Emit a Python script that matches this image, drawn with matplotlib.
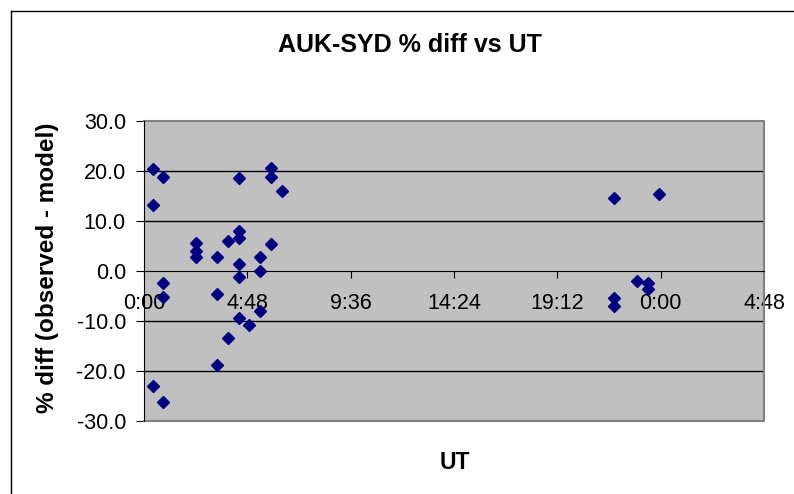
import matplotlib
matplotlib.use("Agg")
import matplotlib.pyplot as plt
from matplotlib.ticker import FuncFormatter, MultipleLocator
from matplotlib.lines import Line2D

plt.rcParams['font.family'] = ['Liberation Sans', 'DejaVu Sans']

# UT in hours, % diff (observed - model)
ut_hours = [0.4, 0.4, 0.4,
            0.9, 0.9, 0.9, 0.9,
            2.4, 2.4, 2.4,
            3.4, 3.4, 3.4,
            3.9, 3.9,
            4.4, 4.4, 4.4, 4.4, 4.4, 4.4,
            4.9,
            5.4, 5.4, 5.4,
            5.9, 5.9, 5.9,
            6.4,
            21.85, 21.85, 21.85,
            22.9,
            23.4, 23.4,
            23.9]
pct_diff = [20.4, 13.2, -22.9,
            18.9, -2.4, -5.2, -26.1,
            5.6, 4.1, 2.8,
            2.9, -4.5, -18.7,
            6.1, -13.3,
            18.6, 8.1, 6.7, 1.5, -1.1, -9.3,
            -10.7,
            2.9, 0.0, -7.9,
            20.6, 18.9, 5.4,
            16.1,
            14.7, -5.3, -6.9,
            -2.0,
            -2.3, -3.5,
            15.4]

ut_days = [h / 24.0 for h in ut_hours]

fig = plt.figure(figsize=(7.94, 4.94), dpi=100)
ax = fig.add_axes([144 / 794, 1 - 421 / 494, 620 / 794, 300 / 494])
ax.set_facecolor('#C0C0C0')

# gridlines
for g in [-20, -10, 10, 20]:
    ax.axhline(g, color='black', lw=1, zorder=1)

ax.plot(ut_days, pct_diff, linestyle='none', marker='D', color='#000080',
        markersize=6.5, zorder=3, clip_on=False)

ax.set_xlim(0, 1.2)
ax.set_ylim(-30, 30)
ax.xaxis.set_major_locator(MultipleLocator(0.2))
ax.yaxis.set_major_locator(MultipleLocator(10))


def fmt_time(x, pos):
    m = int(round(x * 1440)) % 1440
    return "%d:%02d" % (m // 60, m % 60)


ax.xaxis.set_major_formatter(FuncFormatter(fmt_time))
ax.yaxis.set_major_formatter(FuncFormatter(lambda v, p: "%.1f" % v))

ax.spines['bottom'].set_position(('data', 0))
ax.spines['bottom'].set_color('black')
ax.spines['left'].set_color('black')
ax.spines['top'].set_visible(False)
ax.spines['right'].set_visible(False)

# plot area border (gray)
ax.plot([0, 1, 1, 0], [1, 1, 0, 0], transform=ax.transAxes, color='#808080',
        lw=1.5, clip_on=False, zorder=2)

ax.tick_params(axis='x', direction='out', length=5, pad=11, labelsize=15.5)
ax.tick_params(axis='y', direction='out', length=6, pad=7, labelsize=15.5)

fig.text(410 / 794, 1 - 45 / 494, "AUK-SYD % diff vs UT", ha='center', va='center',
         fontsize=18, fontweight='bold')
fig.text(48 / 794, 1 - 268 / 494, "% diff (observed - model)", ha='center', va='center',
         rotation=90, fontsize=17.5, fontweight='bold')
fig.text(455 / 794, 1 - 462 / 494, "UT", ha='center', va='center',
         fontsize=16.5, fontweight='bold')

# outer chart border
fig.add_artist(Line2D([11 / 794, 11 / 794], [0, 1 - 11 / 494], color='black', lw=1))
fig.add_artist(Line2D([11 / 794, 1], [1 - 11 / 494, 1 - 11 / 494], color='black', lw=1))

fig.savefig("out.png", dpi=100)
